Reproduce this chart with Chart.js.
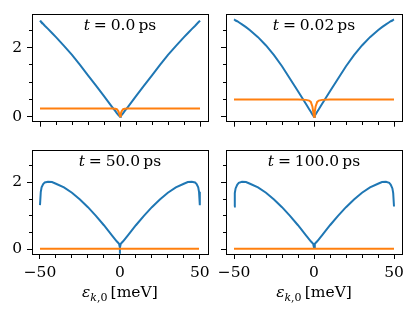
<!DOCTYPE html>
<html>
<head>
<meta charset="utf-8">
<script src="https://cdn.jsdelivr.net/npm/chart.js@4.4.0/dist/chart.umd.min.js"></script>
<style>
  html, body { margin: 0; padding: 0; background: #fff; }
  #wrap { position: relative; width: 415px; height: 318px; }
  canvas { position: absolute; }
</style>
</head>
<body>
<div id="wrap">
  <canvas id="c0" width="215" height="136" style="left:0;top:0"></canvas>
  <canvas id="c1" width="205" height="136" style="left:210px;top:0"></canvas>
  <canvas id="c2" width="215" height="182" style="left:0;top:136px"></canvas>
  <canvas id="c3" width="205" height="182" style="left:210px;top:136px"></canvas>
</div>
<script>
// eps_{k,0} grid in meV
var eps = [-50, -49.5, -49, -48, -47, -45, -42.5, -40, -35, -30, -25, -20, -15, -10, -5, -3, -2, -1, -0.5,
  0, 0.5, 1, 2, 3, 5, 10, 15, 20, 25, 30, 35, 40, 42.5, 45, 47, 48, 49, 49.5, 50];

var times = ['0.0', '0.02', '50.0', '100.0'];

var blueT0 = [2.78, 2.75, 2.73, 2.68, 2.63, 2.54, 2.42, 2.30, 2.05, 1.79, 1.50, 1.20, 0.90, 0.60, 0.29, 0.17, 0.11, 0.05, 0.03,
  0.0, 0.03, 0.05, 0.11, 0.17, 0.29, 0.60, 0.90, 1.20, 1.50, 1.79, 2.05, 2.30, 2.42, 2.54, 2.63, 2.68, 2.73, 2.75, 2.78];
var orangeT0 = [0.24, 0.24, 0.24, 0.24, 0.24, 0.24, 0.24, 0.24, 0.24, 0.24, 0.24, 0.24, 0.24, 0.24, 0.24, 0.235, 0.22, 0.16, 0.09,
  0.02, 0.09, 0.16, 0.22, 0.235, 0.24, 0.24, 0.24, 0.24, 0.24, 0.24, 0.24, 0.24, 0.24, 0.24, 0.24, 0.24, 0.24, 0.24, 0.24];

var blueT002 = [2.81, 2.80, 2.78, 2.76, 2.73, 2.67, 2.59, 2.50, 2.30, 2.06, 1.78, 1.46, 1.10, 0.74, 0.37, 0.22, 0.15, 0.07, 0.04,
  0.0, 0.04, 0.07, 0.15, 0.22, 0.37, 0.74, 1.10, 1.46, 1.78, 2.06, 2.30, 2.50, 2.59, 2.67, 2.73, 2.76, 2.78, 2.80, 2.81];
var orangeT002 = [0.50, 0.50, 0.50, 0.50, 0.50, 0.50, 0.50, 0.50, 0.50, 0.50, 0.50, 0.50, 0.50, 0.50, 0.49, 0.47, 0.43, 0.30, 0.15,
  0.0, 0.15, 0.30, 0.43, 0.47, 0.49, 0.50, 0.50, 0.50, 0.50, 0.50, 0.50, 0.50, 0.50, 0.50, 0.50, 0.50, 0.50, 0.50, 0.50];

var blueT50 = [1.32, 1.72, 1.85, 1.95, 2.00, 2.02, 2.01, 1.96, 1.85, 1.69, 1.49, 1.26, 1.00, 0.72, 0.42, 0.30, 0.24, 0.19, 0.16,
  0.05, 0.16, 0.19, 0.24, 0.30, 0.42, 0.72, 1.00, 1.26, 1.49, 1.69, 1.85, 1.96, 2.01, 2.02, 2.00, 1.95, 1.85, 1.72, 1.32];
var orangeT50 = [0.015, 0.015, 0.015, 0.015, 0.015, 0.015, 0.015, 0.015, 0.015, 0.015, 0.015, 0.015, 0.015, 0.015, 0.015, 0.015, 0.015, 0.015, 0.015,
  0.015, 0.015, 0.015, 0.015, 0.015, 0.015, 0.015, 0.015, 0.015, 0.015, 0.015, 0.015, 0.015, 0.015, 0.015, 0.015, 0.015, 0.015, 0.015, 0.015];

var blueT100 = [1.28, 1.68, 1.82, 1.93, 1.99, 2.02, 2.01, 1.96, 1.85, 1.69, 1.49, 1.26, 1.00, 0.72, 0.42, 0.30, 0.24, 0.19, 0.16,
  0.05, 0.16, 0.19, 0.24, 0.30, 0.42, 0.72, 1.00, 1.26, 1.49, 1.69, 1.85, 1.96, 2.01, 2.02, 1.99, 1.93, 1.82, 1.68, 1.28];
var orangeT100 = [0.015, 0.015, 0.015, 0.015, 0.015, 0.015, 0.015, 0.015, 0.015, 0.015, 0.015, 0.015, 0.015, 0.015, 0.015, 0.015, 0.015, 0.015, 0.015,
  0.015, 0.015, 0.015, 0.015, 0.015, 0.015, 0.015, 0.015, 0.015, 0.015, 0.015, 0.015, 0.015, 0.015, 0.015, 0.015, 0.015, 0.015, 0.015, 0.015];

var xTicks = [-50, -40, -30, -20, -10, 0, 10, 20, 30, 40, 50];
var xMajor = [-50, 0, 50];
var yTicks = [0, 0.5, 1, 1.5, 2, 2.5];
var yMajor = [0, 2];

var SERIF = '"DejaVu Serif", "Liberation Serif", serif';
Chart.defaults.font.family = SERIF;
Chart.defaults.font.size = 15.5;
Chart.defaults.color = '#000';

function fmtNum(v) {
  return v < 0 ? '\u2212' + Math.abs(v) : String(v);
}

function drawParts(ctx, parts, cx, base) {
  var w = 0;
  parts.forEach(function (p) { ctx.font = p[1]; w += ctx.measureText(p[0]).width; });
  var x = cx - w / 2;
  ctx.textAlign = 'left';
  ctx.textBaseline = 'alphabetic';
  ctx.fillStyle = '#000';
  parts.forEach(function (p) {
    ctx.font = p[1];
    ctx.fillText(p[0], x, base + (p[2] || 0));
    x += ctx.measureText(p[0]).width;
  });
}

// frame, panel title and x label
var decor = {
  id: 'decor',
  afterDraw: function (chart) {
    var a = chart.chartArea, ctx = chart.ctx;
    var o = chart.options.plugins.decor;
    ctx.save();
    ctx.strokeStyle = '#000';
    ctx.lineWidth = 1;
    ctx.strokeRect(Math.round(a.left) + 0.5, Math.round(a.top) + 0.5, Math.round(a.right - a.left), Math.round(a.bottom - a.top));
    var cx = (a.left + a.right) / 2;
    drawParts(ctx, [
      ['t', 'italic 15.5px ' + SERIF],
      ['\u2005=\u2005' + o.time + '\u2009ps', '15.5px ' + SERIF]
    ], cx, a.top + 16);
    if (o.xlabel) {
      drawParts(ctx, [
        ['\u03b5', 'italic 15.5px ' + SERIF],
        ['k', 'italic 11px ' + SERIF, 3.5],
        [',0', '11px ' + SERIF, 3.5],
        ['\u2009[meV]', '15.5px ' + SERIF]
      ], cx, a.bottom + 43);
    }
    ctx.restore();
  }
};

function tickDash(axis) {
  return function (c) {
    var v = c.tick ? c.tick.value : null;
    var major = (axis === 'x' ? xMajor : yMajor).indexOf(v) >= 0;
    if (major) return [];
    return axis === 'x' ? [3, 100] : [0, 2, 100, 0];
  };
}

function panel(id, time, blue, orange, left, bottom) {
  var top = bottom ? 4 : 12;
  var yW = left ? 32 : 16;
  var xH = bottom ? 64 : 10;
  var right = left ? 7 : 13;
  new Chart(document.getElementById(id), {
    type: 'line',
    data: {
      datasets: [
        { data: eps.map(function (x, i) { return { x: x, y: orange[i] }; }), borderColor: '#ff7f0e', order: 0 },
        { data: eps.map(function (x, i) { return { x: x, y: blue[i] }; }), borderColor: '#1f77b4', order: 1 }
      ]
    },
    options: {
      responsive: false,
      animation: false,
      layout: { padding: { top: top, right: right, left: 0, bottom: 0 } },
      elements: { point: { radius: 0 }, line: { borderWidth: 2, tension: 0 } },
      plugins: {
        legend: { display: false },
        tooltip: { enabled: false },
        decor: { time: time, xlabel: bottom }
      },
      scales: {
        x: {
          type: 'linear', min: -55, max: 55,
          afterBuildTicks: function (s) { s.ticks = xTicks.map(function (v) { return { value: v }; }); },
          afterFit: function (s) { s.height = xH; },
          ticks: {
            autoSkip: false, maxRotation: 0, padding: 5,
            callback: function (v) { return bottom && xMajor.indexOf(v) >= 0 ? fmtNum(v) : ''; }
          },
          grid: { drawOnChartArea: false, drawTicks: true, tickLength: 5, tickColor: '#000', tickWidth: 1, tickBorderDash: tickDash('x') },
          border: { display: true, color: '#000', width: 1 }
        },
        y: {
          type: 'linear', min: -0.14, max: 2.96,
          afterBuildTicks: function (s) { s.ticks = yTicks.map(function (v) { return { value: v }; }); },
          afterFit: function (s) { s.width = yW; },
          ticks: {
            autoSkip: false, padding: 5,
            callback: function (v) { return left && yMajor.indexOf(v) >= 0 ? fmtNum(v) : ''; }
          },
          grid: { drawOnChartArea: false, drawTicks: true, tickLength: 5, tickColor: '#000', tickWidth: 1, tickBorderDash: tickDash('y') },
          border: { display: true, color: '#000', width: 1 }
        }
      }
    },
    plugins: [decor]
  });
}

panel('c0', times[0], blueT0, orangeT0, true, false);
panel('c1', times[1], blueT002, orangeT002, false, false);
panel('c2', times[2], blueT50, orangeT50, true, true);
panel('c3', times[3], blueT100, orangeT100, false, true);
</script>
</body>
</html>
